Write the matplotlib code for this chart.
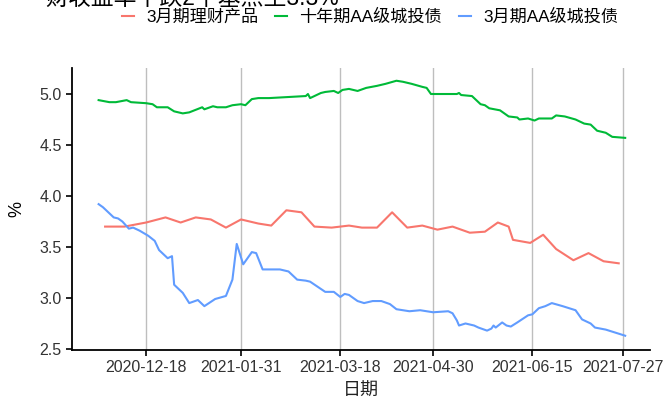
import matplotlib
matplotlib.use("Agg")
import matplotlib.pyplot as plt
import pandas as pd

plt.rcParams['font.family'] = ['Liberation Sans', 'Noto Sans CJK SC', 'DejaVu Sans']

title_text = "财收益率下跌2个基点至3.3%"
series_names = ["3月期理财产品", "十年期AA级城投债", "3月期AA级城投债"]
colors = ["#F8766D", "#00BA38", "#619CFF"]

wm_dates = ["2020-11-29", "2020-12-08", "2020-12-18", "2020-12-27", "2021-01-03", "2021-01-10",
            "2021-01-17", "2021-01-24", "2021-01-31", "2021-02-08", "2021-02-14", "2021-02-21",
            "2021-02-28", "2021-03-06", "2021-03-14", "2021-03-22", "2021-03-28", "2021-04-04",
            "2021-04-11", "2021-04-18", "2021-04-25", "2021-05-02", "2021-05-09", "2021-05-17",
            "2021-05-24", "2021-05-30", "2021-06-04", "2021-06-06", "2021-06-14", "2021-06-20",
            "2021-06-26", "2021-07-04", "2021-07-11", "2021-07-18", "2021-07-25"]
wm_values = [3.70, 3.70, 3.74, 3.79, 3.74, 3.79, 3.77, 3.69, 3.77, 3.73, 3.71, 3.86,
             3.84, 3.70, 3.69, 3.71, 3.69, 3.69, 3.84, 3.69, 3.71, 3.67, 3.70, 3.64,
             3.65, 3.74, 3.70, 3.57, 3.54, 3.62, 3.48, 3.37, 3.44, 3.36, 3.34]

g10_dates = ["2020-11-26", "2020-12-01", "2020-12-04", "2020-12-09", "2020-12-11", "2020-12-18",
             "2020-12-21", "2020-12-23", "2020-12-28", "2020-12-31", "2021-01-04", "2021-01-07",
             "2021-01-13", "2021-01-14", "2021-01-18", "2021-01-20", "2021-01-24", "2021-01-27",
             "2021-01-31", "2021-02-02", "2021-02-05", "2021-02-08", "2021-02-13", "2021-03-02",
             "2021-03-03", "2021-03-04", "2021-03-09", "2021-03-11", "2021-03-15", "2021-03-17",
             "2021-03-19", "2021-03-22", "2021-03-26", "2021-03-30", "2021-04-04", "2021-04-08",
             "2021-04-13", "2021-04-16", "2021-04-20", "2021-04-25", "2021-04-27", "2021-04-29",
             "2021-05-06", "2021-05-11", "2021-05-12", "2021-05-13", "2021-05-18", "2021-05-22",
             "2021-05-24", "2021-05-26", "2021-05-31", "2021-06-04", "2021-06-08", "2021-06-09",
             "2021-06-13", "2021-06-16", "2021-06-18", "2021-06-24", "2021-06-26", "2021-06-30",
             "2021-07-05", "2021-07-07", "2021-07-09", "2021-07-12", "2021-07-15", "2021-07-19",
             "2021-07-22", "2021-07-28"]
g10_values = [4.94, 4.92, 4.92, 4.94, 4.92, 4.91, 4.90, 4.87, 4.87, 4.83, 4.81, 4.82,
              4.87, 4.85, 4.88, 4.87, 4.87, 4.89, 4.90, 4.89, 4.95, 4.96, 4.96, 4.98,
              5.00, 4.96, 5.01, 5.02, 5.03, 5.01, 5.04, 5.05, 5.03, 5.06, 5.08, 5.10,
              5.13, 5.12, 5.10, 5.07, 5.06, 5.00, 5.00, 5.00, 5.01, 4.99, 4.98, 4.90,
              4.89, 4.86, 4.84, 4.78, 4.77, 4.75, 4.76, 4.74, 4.76, 4.76, 4.79, 4.78,
              4.75, 4.73, 4.71, 4.70, 4.64, 4.62, 4.58, 4.57]

b3_dates = ["2020-11-26", "2020-11-28", "2020-12-01", "2020-12-03", "2020-12-05", "2020-12-07",
            "2020-12-10", "2020-12-12", "2020-12-15", "2020-12-19", "2020-12-22", "2020-12-24",
            "2020-12-28", "2020-12-30", "2020-12-31", "2021-01-04", "2021-01-07", "2021-01-11",
            "2021-01-14", "2021-01-19", "2021-01-24", "2021-01-27", "2021-01-29", "2021-02-01",
            "2021-02-05", "2021-02-07", "2021-02-10", "2021-02-18", "2021-02-22", "2021-02-26",
            "2021-03-02", "2021-03-04", "2021-03-11", "2021-03-15", "2021-03-18", "2021-03-20",
            "2021-03-22", "2021-03-26", "2021-03-29", "2021-04-02", "2021-04-06", "2021-04-10",
            "2021-04-13", "2021-04-19", "2021-04-24", "2021-04-30", "2021-05-07", "2021-05-09",
            "2021-05-11", "2021-05-12", "2021-05-15", "2021-05-19", "2021-05-21", "2021-05-25",
            "2021-05-27", "2021-05-28", "2021-05-29", "2021-06-01", "2021-06-03", "2021-06-05",
            "2021-06-08", "2021-06-13", "2021-06-15", "2021-06-18", "2021-06-21", "2021-06-24",
            "2021-06-29", "2021-07-05", "2021-07-08", "2021-07-12", "2021-07-14", "2021-07-19",
            "2021-07-28"]
b3_values = [3.92, 3.89, 3.83, 3.79, 3.78, 3.75, 3.68, 3.69, 3.66, 3.61, 3.56, 3.47,
             3.39, 3.41, 3.13, 3.05, 2.95, 2.98, 2.92, 2.99, 3.02, 3.18, 3.53, 3.33,
             3.45, 3.44, 3.28, 3.28, 3.26, 3.18, 3.17, 3.16, 3.06, 3.06, 3.01, 3.04,
             3.03, 2.97, 2.95, 2.97, 2.97, 2.94, 2.89, 2.87, 2.88, 2.86, 2.87, 2.85,
             2.78, 2.73, 2.75, 2.73, 2.71, 2.68, 2.70, 2.73, 2.71, 2.76, 2.73, 2.72,
             2.76, 2.83, 2.84, 2.90, 2.92, 2.95, 2.92, 2.88, 2.79, 2.75, 2.71, 2.69,
             2.63]

x_ticks = ["2020-12-18", "2021-01-31", "2021-03-18", "2021-04-30", "2021-06-15", "2021-07-27"]
y_ticks = [2.5, 3.0, 3.5, 4.0, 4.5, 5.0]

W, H = 670, 403
fig = plt.figure(figsize=(W / 100, H / 100), dpi=100)
ax = fig.add_axes([72 / W, (H - 350) / H, (650 - 72) / W, (350 - 68) / H])

fs = 11.5
series = [(wm_dates, wm_values), (g10_dates, g10_values), (b3_dates, b3_values)]
handles = []
for (d, v), name, c in zip(series, series_names, colors):
    h, = ax.plot(pd.to_datetime(d), v, color=c, lw=1.5, label=name, solid_joinstyle='round')
    handles.append(h)

ax.set_xlim(pd.Timestamp("2020-11-13 16:00"), pd.Timestamp("2021-08-08 12:00"))
ax.set_ylim(2.49, 5.255)
ax.set_xticks(pd.to_datetime(x_ticks))
ax.set_xticklabels(x_ticks)
ax.set_yticks(y_ticks)
ax.set_yticklabels([f"{t:.1f}" for t in y_ticks])
ax.grid(axis='x', color='#BEBEBE', lw=1.0)
ax.set_axisbelow(True)
for s in ['top', 'right']:
    ax.spines[s].set_visible(False)
for s in ['left', 'bottom']:
    ax.spines[s].set_linewidth(1.3)
    ax.spines[s].set_color('black')
ax.tick_params(axis='both', length=4.5, width=1.2, colors='black', labelcolor='#333333',
               labelsize=fs, pad=3)
ax.set_xlabel("日期", fontsize=13, labelpad=5, color='#222222')
ax.set_ylabel("%", fontsize=13, labelpad=10)

fig.legend(handles=handles, labels=series_names, loc='center', ncol=3, frameon=False,
           bbox_to_anchor=(370 / W, 1 - 17 / H), fontsize=12.3, handlelength=0.7,
           handletextpad=0.7, columnspacing=1.0)

fig.text(45 / W, 1 - 5 / H, title_text, fontsize=16.5, ha='left', va='baseline')

fig.savefig("out.png", dpi=100)
